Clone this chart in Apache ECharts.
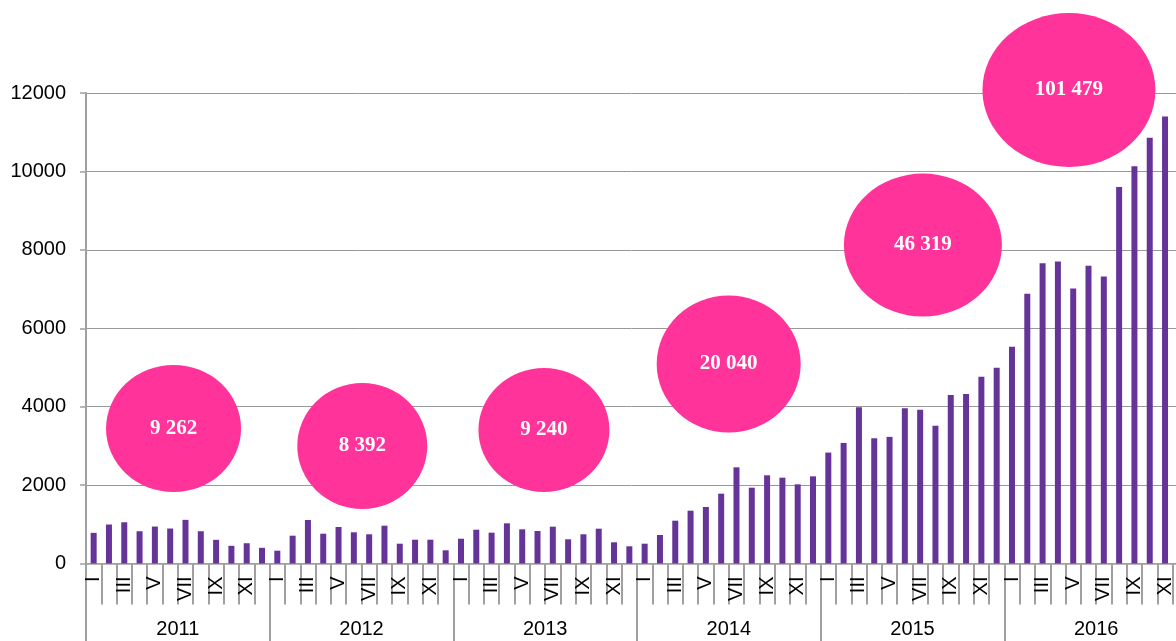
<!DOCTYPE html>
<html>
<head>
<meta charset="utf-8">
<script src="https://cdn.jsdelivr.net/npm/echarts@6/dist/echarts.min.js"></script>
<style>
  html, body { margin: 0; padding: 0; background: #fff; }
  #chart { width: 1176px; height: 641px; }
</style>
</head>
<body>
<div id="chart"></div>
<script>
var years = ['2011', '2012', '2013', '2014', '2015', '2016'];
var monthLabels = ['I', '', 'III', '', 'V', '', 'VII', '', 'IX', '', 'XI', ''];

var v2011 = [782, 994, 1052, 823, 943, 892, 1113, 823, 604, 451, 517, 400];
var v2012 = [327, 709, 1109, 760, 931, 796, 745, 964, 505, 607, 607, 337];
var v2013 = [632, 862, 786, 1025, 872, 829, 939, 617, 745, 888, 541, 439];
var v2014 = [505, 727, 1092, 1347, 1441, 1781, 2453, 1934, 2249, 2189, 2019, 2223];
var v2015 = [2829, 3075, 3988, 3194, 3230, 3960, 3924, 3513, 4298, 4325, 4763, 4992];
var v2016 = [5530, 6881, 7656, 7702, 7017, 7592, 7319, 9600, 10129, 10859, 11398, 9796];

var totals = ['9 262', '8 392', '9 240', '20 040', '46 319', '101 479'];

// where the pink bubbles sit: [months from left edge, value], and their size
var bubbleAt = [[5.72, 3443], [18.05, 2997], [29.92, 3405], [41.99, 5088], [54.68, 8123], [64.22, 12076]];
var bubbleSize = [[135, 127], [130, 126], [131, 124], [144, 137], [158, 143], [173, 154]];

var months = [];
var values = [].concat(v2011, v2012, v2013, v2014, v2015, v2016);
years.forEach(function (y) {
  for (var m = 0; m < 12; m++) months.push(y + '-' + (m + 1));
});

var bubbles = bubbleAt.map(function (p, i) {
  return { value: [p[0], p[1]], symbolSize: bubbleSize[i], label: { formatter: totals[i] } };
});

var gray = '#a0a0a0';
var chart = echarts.init(document.getElementById('chart'));
chart.setOption({
  animation: false,
  grid: { left: 86, top: 93, width: 1102, height: 470.5, outerBoundsMode: 'none', containLabel: false },
  xAxis: [
    {
      type: 'category',
      data: months,
      axisLine: { show: true, lineStyle: { color: gray, width: 1.5 } },
      axisTick: { show: true, interval: 0, length: 41, lineStyle: { color: gray, width: 2 } },
      axisLabel: {
        interval: 0,
        rotate: 90,
        margin: 13,
        fontFamily: 'Liberation Sans',
        fontSize: 20,
        color: '#000',
        formatter: function (v, i) { return monthLabels[i % 12]; }
      }
    },
    {
      type: 'category',
      data: years,
      position: 'bottom',
      axisLine: { show: false },
      axisTick: { show: true, length: 78, lineStyle: { color: gray, width: 2 } },
      axisLabel: { margin: 56, fontFamily: 'Liberation Sans', fontSize: 20, color: '#000' }
    },
    { type: 'value', min: 0, max: 72, show: false }
  ],
  yAxis: {
    type: 'value',
    min: 0,
    max: 12000,
    interval: 2000,
    axisLine: { show: true, lineStyle: { color: gray, width: 2 } },
    axisTick: { show: true, length: 6, lineStyle: { color: gray, width: 1.5 } },
    splitLine: { lineStyle: { color: '#999' } },
    axisLabel: {
      margin: 20, fontFamily: 'Liberation Sans', fontSize: 20, color: '#000',
      formatter: function (v) { return String(v); }
    }
  },
  series: [
    {
      type: 'bar',
      data: values,
      barWidth: 6,
      itemStyle: { color: '#663399' }
    },
    {
      type: 'scatter',
      xAxisIndex: 2,
      clip: false,
      symbol: 'circle',
      data: bubbles,
      itemStyle: { color: '#ff3399', opacity: 1 },
      label: {
        show: true,
        position: 'inside',
        color: '#fff',
        fontFamily: 'Liberation Serif',
        fontWeight: 'bold',
        fontSize: 21
      },
      z: 5
    }
  ]
});
</script>
</body>
</html>
